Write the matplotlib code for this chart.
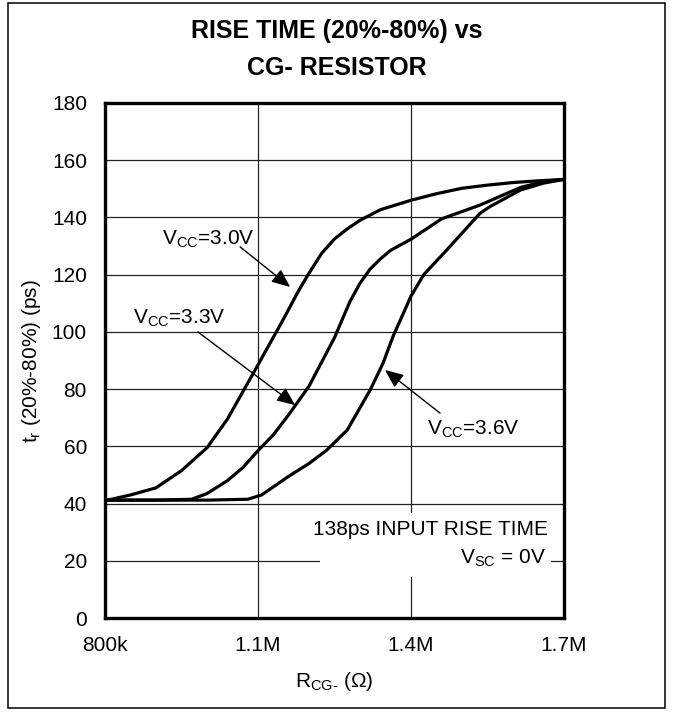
"""Rise time (20%-80%) vs CG- resistor, three supply voltages."""

import matplotlib
matplotlib.use("Agg")
import matplotlib.pyplot as plt
from matplotlib.patches import Rectangle

# ── data ──
r_30 = [800, 850, 900, 950, 1000, 1040, 1070, 1100, 1150, 1180, 1200, 1225,
        1250, 1275, 1300, 1340, 1400, 1450, 1500, 1550, 1600, 1650, 1700]
t_30 = [41.0, 43.0, 45.5, 51.5, 59.5, 69.5, 79.0, 88.5, 104.5, 114.5, 120.5,
        127.5, 132.5, 136.0, 139.0, 142.7, 146.0, 148.3, 150.2, 151.3, 152.2,
        152.8, 153.3]

r_33 = [800, 900, 970, 1000, 1040, 1070, 1100, 1130, 1160, 1200, 1250, 1280,
        1300, 1320, 1340, 1360, 1400, 1460, 1535, 1615, 1660, 1700]
t_33 = [41.2, 41.2, 41.5, 43.5, 48.0, 52.5, 58.5, 64.0, 71.0, 81.0, 98.0,
        110.5, 117.0, 122.0, 125.5, 128.5, 132.4, 139.5, 144.3, 150.5, 152.5,
        153.3]

r_36 = [800, 1000, 1080, 1107, 1160, 1200, 1235, 1275, 1320, 1345, 1365,
        1400, 1425, 1470, 1535, 1555, 1615, 1660, 1700]
t_36 = [41.2, 41.2, 41.5, 43.0, 49.5, 54.0, 58.7, 65.7, 79.7, 89.0, 98.5,
        112.5, 120.0, 128.6, 141.4, 143.8, 149.6, 152.0, 153.3]

x_ticks = [800, 1100, 1400, 1700]
x_ticklabels = ["800k", "1.1M", "1.4M", "1.7M"]
y_ticks = list(range(0, 181, 20))

# label text, label anchor (x, y baseline), arrow tail, arrow head
labels = [
    ("V$_{\\mathrm{CC}}$=3.0V", (912, 130.4), (1065, 129.7), (1163, 115.7)),
    ("V$_{\\mathrm{CC}}$=3.3V", (855, 102.8), (982, 100.0), (1173, 74.4)),
    ("V$_{\\mathrm{CC}}$=3.6V", (1431, 64.0), (1457, 71.6), (1349, 86.7)),
]

FAM = ["Liberation Sans", "DejaVu Sans"]

plt.rcParams["font.family"] = FAM
plt.rcParams["mathtext.fontset"] = "custom"
plt.rcParams["mathtext.rm"] = "Liberation Sans"
plt.rcParams["mathtext.it"] = "Liberation Sans:italic"

fig = plt.figure(figsize=(6.73, 7.12), dpi=100)
ax = fig.add_axes([105 / 673, 1 - 618 / 712, 459 / 673, 515 / 712])

# outer frame around the whole figure
fig.add_artist(Rectangle((8 / 673, 4 / 712), 657 / 673, 705 / 712,
                         transform=fig.transFigure, fill=False,
                         edgecolor="black", linewidth=1.1))

for r, t in [(r_30, t_30), (r_33, t_33), (r_36, t_36)]:
    ax.plot(r, t, color="black", linewidth=2.3, solid_joinstyle="round",
            zorder=3)

ax.set_xlim(800, 1700)
ax.set_ylim(0, 180)
ax.set_xticks(x_ticks)
ax.set_xticklabels(x_ticklabels)
ax.set_yticks(y_ticks)
ax.tick_params(length=0, labelsize=15, pad=13)
ax.grid(True, color="#222222", linewidth=0.9, zorder=0.5)
ax.set_axisbelow(True)
for sp in ax.spines.values():
    sp.set_linewidth(2.4)

# white panel behind the condition notes
ax.add_patch(Rectangle((1222, 14.3), 452, 22.4, facecolor="white",
                       edgecolor="none", zorder=1))
ax.text(1668, 29.0, "138ps INPUT RISE TIME", ha="right", va="baseline",
        fontsize=15, zorder=4)
ax.text(1666, 19.1, "V$_{\\mathrm{SC}}$ = 0V", ha="right", va="baseline",
        fontsize=15, zorder=4)

for txt, pos, tail, head in labels:
    ax.text(pos[0], pos[1], txt, ha="left", va="baseline", fontsize=15,
            zorder=4,
            bbox=dict(facecolor="white", edgecolor="none", pad=1.5))
    ax.annotate("", xy=head, xytext=tail,
                arrowprops=dict(arrowstyle="-|>,head_length=0.75,head_width=0.32",
                                mutation_scale=15, color="black", lw=1.0,
                                shrinkA=0, shrinkB=0), zorder=4)

ax.set_ylabel("t$_{\\mathrm{r}}$ (20%-80%) (ps)", fontsize=15, labelpad=6)
ax.set_xlabel("R$_{\\mathrm{CG\\text{-}}}$ ($\\Omega$)", fontsize=15,
              labelpad=11)

fig.text(0.5, 1 - 31 / 712, "RISE TIME (20%-80%) vs", ha="center",
         va="center", fontsize=18, fontweight="bold")
fig.text(0.5, 1 - 68 / 712, "CG- RESISTOR", ha="center", va="center",
         fontsize=18, fontweight="bold")

fig.savefig("out.png", dpi=100)
plt.close(fig)
